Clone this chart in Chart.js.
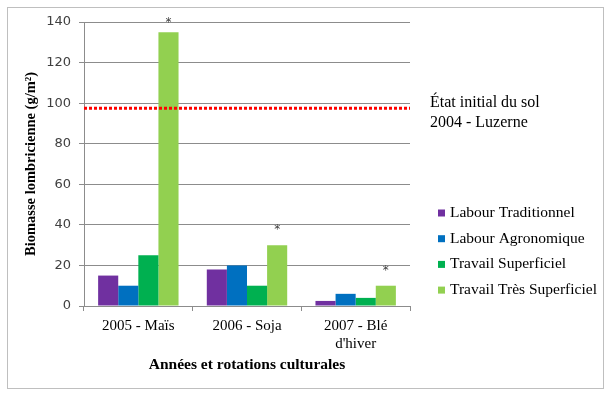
<!DOCTYPE html>
<html>
<head>
<meta charset="utf-8">
<script src="https://cdn.jsdelivr.net/npm/chart.js@4"></script>
<style>
  html, body { margin: 0; padding: 0; background: #fff; }
  #wrap { width: 614px; height: 396px; }
</style>
</head>
<body>
<div id="wrap"><canvas id="chart" width="614" height="396"></canvas></div>
<script>
const categories = ["2005 - Maïs", "2006 - Soja", ["2007 - Blé", "d'hiver"]];
const seriesNames = ["Labour Traditionnel", "Labour Agronomique", "Travail Superficiel", "Travail Très Superficiel"];
const seriesColors = ["#7030A0", "#0070C0", "#00B050", "#92D050"];
const labourTraditionnel = [15, 18, 2.5];
const labourAgronomique = [10, 20, 6];
const travailSuperficiel = [25, 10, 4];
const travailTresSuperficiel = [135, 30, 10];
const starValues = [140.5, 38.5, 18.5];
const initialLevel = 97.5;
const initialText = ["État initial du sol", "2004 - Luzerne"];
const yTicks = [0, 20, 40, 60, 80, 100, 120, 140];
const yTitle = "Biomasse lombricienne (g/m²)";

const serif = "'Liberation Serif', 'DejaVu Serif', serif";
const gridColor = "#8c8c8c";

const extras = {
  id: "extras",
  beforeDraw(chart) {
    const ctx = chart.ctx;
    ctx.save();
    ctx.fillStyle = "#fff";
    ctx.fillRect(0, 0, chart.width, chart.height);
    ctx.strokeStyle = "#bfbfbf";
    ctx.lineWidth = 1;
    ctx.strokeRect(7.5, 7.5, 596, 381);
    ctx.restore();
  },
  afterDatasetsDraw(chart) {
    const ctx = chart.ctx;
    const area = chart.chartArea;
    const y = chart.scales.y;
    ctx.save();
    // initial soil level
    const ly = y.getPixelForValue(initialLevel);
    ctx.strokeStyle = "#ff0000";
    ctx.lineWidth = 3;
    ctx.setLineDash([3, 2]);
    ctx.beginPath();
    ctx.moveTo(area.left, ly);
    ctx.lineTo(area.right, ly);
    ctx.stroke();
    ctx.setLineDash([]);

    // significance stars
    const meta = chart.getDatasetMeta(3);
    ctx.fillStyle = "#404040";
    ctx.font = "12px 'DejaVu Sans', sans-serif";
    ctx.textAlign = "center";
    ctx.textBaseline = "middle";
    starValues.forEach((v, i) => {
      ctx.fillText("*", meta.data[i].x, y.getPixelForValue(v) + 2);
    });

    // y axis title
    ctx.save();
    ctx.translate(31, (area.top + area.bottom) / 2);
    ctx.rotate(-Math.PI / 2);
    ctx.fillStyle = "#000";
    ctx.font = "bold 14.5px " + serif;
    ctx.fillText(yTitle, 0, 0);
    ctx.restore();

    // text on the right
    ctx.fillStyle = "#000";
    ctx.font = "16px " + serif;
    ctx.textAlign = "left";
    initialText.forEach((t, i) => ctx.fillText(t, 430, 103 + i * 20));

    // legend
    ctx.font = "15.5px " + serif;
    seriesNames.forEach((name, i) => {
      const cy = 213 + i * 25.7;
      ctx.fillStyle = seriesColors[i];
      ctx.fillRect(438, cy - 3.5, 7, 7);
      ctx.fillStyle = "#000";
      ctx.fillText(name, 450, cy);
    });
    ctx.restore();
  }
};

new Chart(document.getElementById("chart"), {
  type: "bar",
  data: {
    labels: categories,
    datasets: [labourTraditionnel, labourAgronomique, travailSuperficiel, travailTresSuperficiel].map((d, i) => ({
      label: seriesNames[i],
      data: d,
      backgroundColor: seriesColors[i],
      borderWidth: 0,
      categoryPercentage: 0.74,
      barPercentage: 1
    }))
  },
  options: {
    responsive: false,
    animation: false,
    layout: { padding: { left: 14, right: 204, top: 22, bottom: 14 } },
    plugins: { legend: { display: false }, tooltip: { enabled: false } },
    scales: {
      x: {
        afterFit: (s) => { s.height = 76; },
        border: { color: gridColor },
        grid: { drawOnChartArea: false, color: gridColor, tickLength: 5 },
        ticks: { color: "#000", padding: 6, font: { family: serif, size: 15, lineHeight: 1.2 } },
        title: {
          display: true,
          text: "Années et rotations culturales",
          color: "#000",
          padding: { top: 0, bottom: 8 },
          font: { family: serif, size: 15.5, weight: "bold" }
        }
      },
      y: {
        min: 0,
        max: 140,
        afterFit: (s) => { s.width = 70; },
        afterBuildTicks: (s) => { s.ticks = yTicks.map(v => ({ value: v })); },
        border: { color: gridColor },
        grid: { color: gridColor, tickLength: 5 },
        ticks: { color: "#404040", padding: 8, font: { family: "'DejaVu Sans', sans-serif", size: 13 } }
      }
    }
  },
  plugins: [extras]
});
</script>
</body>
</html>
